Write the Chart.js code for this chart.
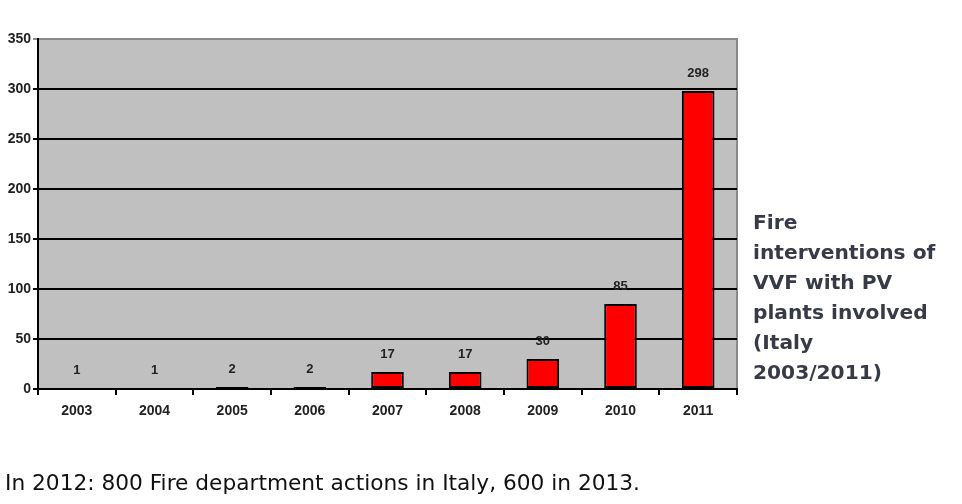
<!DOCTYPE html>
<html>
<head>
<meta charset="utf-8">
<script src="https://cdn.jsdelivr.net/npm/chart.js@4/dist/chart.umd.min.js"></script>
<style>
html, body { margin: 0; padding: 0; background: #fff; }
#wrap { position: relative; width: 962px; height: 504px; overflow: hidden; }
#c { position: absolute; left: 0; top: 0; }
#side { position: absolute; left: 753px; top: 207px; width: 209px; font-family: "DejaVu Sans", sans-serif; font-weight: bold; font-size: 20.2px; line-height: 30px; color: #373a47; }
#note { position: absolute; left: 5px; top: 470px; font-family: "DejaVu Sans", sans-serif; font-size: 21.7px; color: #111; white-space: nowrap; }
</style>
</head>
<body>
<div id="wrap">
<canvas id="c" width="962" height="504"></canvas>
<div id="side">Fire<br>interventions of<br>VVF with PV<br>plants involved<br>(Italy<br>2003/2011)</div>
<div id="note">In 2012: 800 Fire department actions in Italy, 600 in 2013.</div>
</div>
<script>
// data
var years = ["2003", "2004", "2005", "2006", "2007", "2008", "2009", "2010", "2011"];
var interventions = [1, 1, 2, 2, 17, 17, 30, 85, 298];
var yTicks = [0, 50, 100, 150, 200, 250, 300, 350];

// grey plot background
var plotBg = {
  id: 'plotBg',
  beforeDraw: function(chart) {
    var a = chart.chartArea, ctx = chart.ctx;
    ctx.save();
    ctx.fillStyle = '#c0c0c0';
    ctx.fillRect(a.left, a.top, a.right - a.left, a.bottom - a.top);
    ctx.strokeStyle = '#8a8a8a';
    ctx.lineWidth = 2;
    ctx.beginPath();
    ctx.moveTo(a.left, a.top);
    ctx.lineTo(a.right, a.top);
    ctx.lineTo(a.right, a.bottom);
    ctx.stroke();
    ctx.restore();
  }
};

// value labels above bars
var valueLabels = {
  id: 'valueLabels',
  afterDatasetsDraw: function(chart) {
    var ctx = chart.ctx;
    var meta = chart.getDatasetMeta(0);
    ctx.save();
    ctx.font = 'bold 13px "Liberation Sans", Arial, sans-serif';
    ctx.fillStyle = '#222';
    ctx.textAlign = 'center';
    ctx.textBaseline = 'bottom';
    meta.data.forEach(function(bar, i) {
      ctx.fillText(String(interventions[i]), bar.x, bar.y - 11);
    });
    ctx.restore();
  }
};

var ctx = document.getElementById('c').getContext('2d');
var chart = new Chart(ctx, {
  type: 'bar',
  data: {
    labels: years,
    datasets: [{
      data: interventions,
      backgroundColor: '#ff0000',
      borderColor: '#000000',
      borderWidth: 2,
      borderSkipped: false,
      categoryPercentage: 1,
      barPercentage: 0.42
    }]
  },
  options: {
    responsive: false,
    animation: false,
    layout: { padding: { left: 0, top: 39, right: 225, bottom: 85 } },
    plugins: { legend: { display: false }, tooltip: { enabled: false } },
    scales: {
      x: {
        offset: true,
        afterFit: function(s) { s.height = 30; },
        border: { color: '#000', width: 2 },
        grid: { offset: true, drawOnChartArea: false, drawTicks: true, tickLength: 6, color: '#000', lineWidth: 2 },
        ticks: { color: '#222', padding: 8, font: { family: '"Liberation Sans", Arial, sans-serif', size: 14, weight: 'bold' } }
      },
      y: {
        min: 0,
        max: 350,
        afterFit: function(s) { s.width = 38; },
        afterBuildTicks: function(s) { s.ticks = yTicks.map(function(v) { return { value: v }; }); },
        border: { color: '#000', width: 2 },
        grid: {
          color: function(c) { return c.tick && c.tick.value === 350 ? '#8a8a8a' : '#000'; },
          lineWidth: 2,
          tickLength: 5
        },
        ticks: { color: '#222', padding: 2, font: { family: '"Liberation Sans", Arial, sans-serif', size: 14, weight: 'bold' } }
      }
    }
  },
  plugins: [plotBg, valueLabels]
});
</script>
</body>
</html>
